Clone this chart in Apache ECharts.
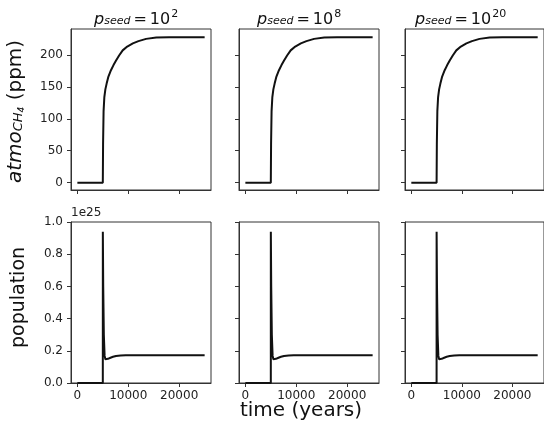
<!DOCTYPE html>
<html><head><meta charset="utf-8">
<script src="https://cdn.jsdelivr.net/npm/echarts@6/dist/echarts.min.js"></script>
<style>html,body{margin:0;padding:0;background:#fff}#c{width:544px;height:431px}</style>
</head><body><div id="c"></div>
<script>
// ---- data ----
const seedExponents = ['2', '8', '20'];
const ch4Time   = [0, 5000, 5050, 5150, 5300, 5500, 5750, 6100, 6600, 7100, 7600, 8200, 8900, 9800, 10900, 12000, 13500, 15500, 18000, 25000];
const ch4Values = [0, 0, 60, 112, 134, 146, 155, 166, 176, 184, 191, 199, 207, 213, 218, 221.5, 225, 227, 227.5, 227.5];
const popTime   = [0, 5000, 5005, 5080, 5200, 5350, 5500, 5650, 6000, 6500, 7000, 7600, 8500, 9500, 25000];
const popValues = [0, 0, 0.94, 0.6, 0.3, 0.17, 0.148, 0.146, 0.150, 0.157, 0.163, 0.168, 0.171, 0.173, 0.173]; // x 1e25
const ch4Ticks  = [0, 50, 100, 150, 200];
const popTicks  = [0, 0.2, 0.4, 0.6, 0.8, 1.0];
const timeTicks = [0, 10000, 20000];
const popOffsetLabel = '1e25';

// ---- layout / style ----
const FONT = 'DejaVu Sans';
const lefts = [71, 239, 405];
const W = 140;
const rows = [{ top: 29, height: 161 }, { top: 222, height: 161 }];
const ranges = {
  x: [-1250, 26250],
  ch4: [-11.45, 240.45],
  pop: [0, 1.0]
};
const spine = '#333';

const grids = [], xAxes = [], yAxes = [], series = [];
let idx = 0;
for (let r = 0; r < 2; r++) {
  for (let c = 0; c < 3; c++) {
    grids.push({
      left: lefts[c], top: rows[r].top, width: W, height: rows[r].height,
      show: true, borderColor: spine, borderWidth: 1, containLabel: false
    });
    xAxes.push({
      type: 'value', gridIndex: idx, min: ranges.x[0], max: ranges.x[1],
      axisLine: { show: true, onZero: false, lineStyle: { color: spine, width: 1 } },
      axisTick: { show: true, length: 4, customValues: timeTicks, lineStyle: { color: spine } },
      axisLabel: {
        show: r === 1, customValues: timeTicks, fontFamily: FONT, fontSize: 12,
        color: '#222', margin: 7, formatter: v => String(v)
      },
      splitLine: { show: false }
    });
    const isCh4 = r === 0;
    const ticks = isCh4 ? ch4Ticks : popTicks;
    const yr = isCh4 ? ranges.ch4 : ranges.pop;
    const yAx = {
      type: 'value', gridIndex: idx, min: yr[0], max: yr[1],
      axisLine: { show: true, onZero: false, lineStyle: { color: spine, width: 1 } },
      axisTick: { show: true, length: 4, customValues: ticks, lineStyle: { color: spine } },
      axisLabel: {
        show: c === 0, customValues: ticks, fontFamily: FONT, fontSize: 12,
        color: '#222', margin: 8,
        formatter: v => isCh4 ? String(Math.round(v)) : v.toFixed(1)
      },
      splitLine: { show: false }
    };
    if (!isCh4 && c === 0) {
      yAx.name = popOffsetLabel;
      yAx.nameLocation = 'end';
      yAx.nameGap = 3;
      yAx.nameTextStyle = { fontFamily: FONT, fontSize: 12, color: '#222', align: 'left', verticalAlign: 'bottom' };
    }
    yAxes.push(yAx);
    const tArr = isCh4 ? ch4Time : popTime;
    const vArr = isCh4 ? ch4Values : popValues;
    series.push({
      type: 'line', xAxisIndex: idx, yAxisIndex: idx,
      data: tArr.map((t, i) => [t, vArr[i]]),
      showSymbol: false, symbol: 'none', silent: true,
      lineStyle: { color: '#111', width: 2 }, clip: true
    });
    idx++;
  }
}

const titleLeft = [94, 257, 415];
const graphics = [];
for (let c = 0; c < 3; c++) {
  graphics.push({
    type: 'text', x: titleLeft[c], y: 20, silent: true,
    style: {
      text: '{p|p}{s|seed}{n|=}{m|10}{e|' + seedExponents[c] + '}',
      align: 'left', verticalAlign: 'middle', textAlign: 'left', textVerticalAlign: 'middle',
      fill: '#111',
      rich: {
        p: { fontFamily: FONT, fontStyle: 'italic', fontSize: 16, lineHeight: 20, fill: '#111', color: '#111' },
        s: { fontFamily: FONT, fontStyle: 'italic', fontSize: 11, lineHeight: 12, padding: [3, 0, 0, 0], fill: '#111', color: '#111' },
        n: { fontFamily: FONT, fontSize: 16, lineHeight: 20, padding: [0, 3, 0, 3], fill: '#111', color: '#111' },
        m: { fontFamily: FONT, fontSize: 16, lineHeight: 20, fill: '#111', color: '#111' },
        e: { fontFamily: FONT, fontSize: 11, lineHeight: 12, padding: [0, 0, 12, 1], fill: '#111', color: '#111' }
      }
    }
  });
}
graphics.push({
  type: 'text', x: 16, y: 111.5, rotation: Math.PI / 2, silent: true,
  style: {
    text: '{a|atmo}{b|CH}{c|4}{d| (ppm)}',
    align: 'center', verticalAlign: 'middle', textAlign: 'center', textVerticalAlign: 'middle',
    fill: '#111',
    rich: {
      a: { fontFamily: FONT, fontStyle: 'italic', fontSize: 20, lineHeight: 24, fill: '#111', color: '#111' },
      b: { fontFamily: FONT, fontStyle: 'italic', fontSize: 13, lineHeight: 14, padding: [6, 0, 0, 0], fill: '#111', color: '#111' },
      c: { fontFamily: FONT, fontStyle: 'italic', fontSize: 9, lineHeight: 10, padding: [12, 0, 0, 0], fill: '#111', color: '#111' },
      d: { fontFamily: FONT, fontSize: 20, lineHeight: 24, fill: '#111', color: '#111' }
    }
  }
});
graphics.push({
  type: 'text', x: 19, y: 297.5, rotation: Math.PI / 2, silent: true,
  style: {
    text: 'population', font: '19px "DejaVu Sans"', fill: '#111',
    align: 'center', verticalAlign: 'middle', textAlign: 'center', textVerticalAlign: 'middle'
  }
});
graphics.push({
  type: 'text', x: 301, y: 411, silent: true,
  style: {
    text: 'time (years)', font: '20px "DejaVu Sans"', fill: '#111',
    align: 'center', verticalAlign: 'middle', textAlign: 'center', textVerticalAlign: 'middle'
  }
});

const chart = echarts.init(document.getElementById('c'), null, { renderer: 'canvas' });
chart.setOption({
  animation: false,
  backgroundColor: '#fff',
  grid: grids, xAxis: xAxes, yAxis: yAxes, series: series,
  graphic: graphics
});
</script></body></html>
